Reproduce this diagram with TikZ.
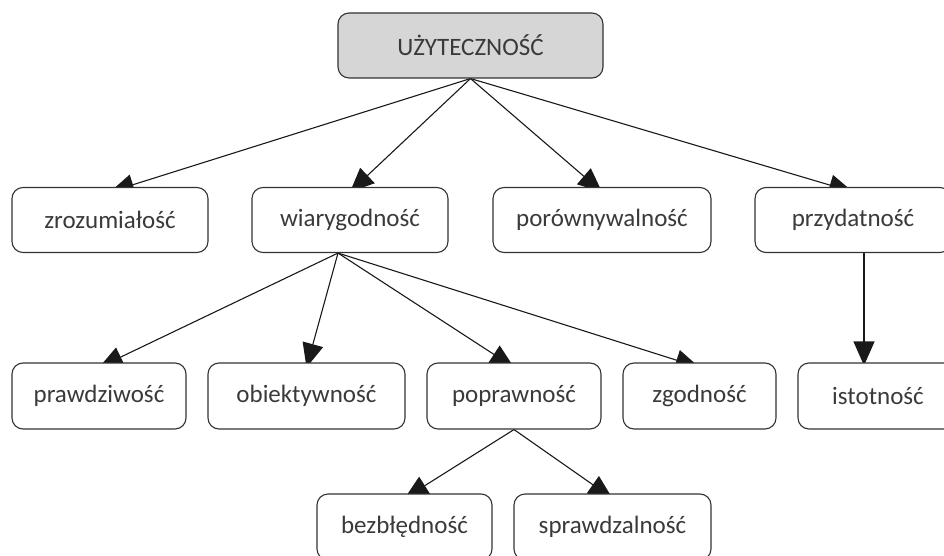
\documentclass[tikz,border=0pt]{standalone}
\usepackage{fontspec}
\setmainfont{Carlito}
\usetikzlibrary{arrows.meta,calc,backgrounds}
\definecolor{txt}{HTML}{3A3A3A}
\definecolor{edge}{HTML}{333333}
\definecolor{topfill}{HTML}{D6D6D6}
\begin{document}
\begin{tikzpicture}[x=1pt,y=-1pt,
  box/.style={draw=edge, line width=1.1pt, rounded corners=11pt, fill=white, text=txt,
    font=\fontsize{25}{30}\selectfont, inner sep=0pt, minimum height=65pt},
  conn/.style={draw=black!90, line width=1.1pt, -{Triangle[length=24pt,width=21pt]}}]
\useasboundingbox (0,0) rectangle (944,556);
\clip (0,0) rectangle (944,556);
% level 0
\node[box, fill=topfill, minimum width=265pt] (top) at (470.5,45.5) {UŻYTECZNOŚĆ};
% level 1
\node[box, minimum width=196pt] (zroz) at (110,220) {zrozumiałość};
\node[box, minimum width=196pt] (wiar) at (350,220) {wiarygodność};
\node[box, minimum width=218pt] (poro) at (602,220) {porównywalność};
\node[box, minimum width=196pt] (przy) at (853,220) {przydatność};
% level 2
\node[box, minimum width=174pt, minimum height=66pt] (praw) at (99,396) {prawdziwość};
\node[box, minimum width=197pt, minimum height=66pt] (obie) at (306.5,396) {obiektywność};
\node[box, minimum width=174pt, minimum height=66pt] (popr) at (514,396) {poprawność};
\node[box, minimum width=153pt, minimum height=66pt] (zgod) at (699.5,396) {zgodność};
\node[box, minimum width=160pt, minimum height=66pt] (isto) at (878,396) {istotność};
% level 3
\node[box, minimum width=175pt, minimum height=66pt] (bezb) at (404.5,527) {bezbłędność};
\node[box, minimum width=197pt, minimum height=66pt] (spra) at (612.5,527) {sprawdzalność};
% connectors
\begin{scope}[on background layer]
\draw[conn] (top.south) -- ($(zroz.north)+(0,5)$);
\draw[conn] (top.south) -- ($(wiar.north)+(0,5)$);
\draw[conn] (top.south) -- ($(poro.north)+(0,5)$);
\draw[conn] (top.south) -- ($(przy.north)+(0,5)$);
\coordinate (ws) at ($(wiar.south)+(-12,0)$);
\draw[conn] (ws) -- ($(praw.north)+(0,5)$);
\draw[conn] (ws) -- ($(obie.north)+(0,5)$);
\draw[conn] (ws) -- ($(popr.north)+(0,5)$);
\draw[conn] (ws) -- ($(zgod.north)+(0,5)$);
\coordinate (ps) at ($(przy.south)+(11,0)$);
\coordinate (pi) at ($(ps |- isto.north)+(0,3)$);
\draw[conn] (ps) -- (pi);
\draw[conn] (popr.south) -- ($(bezb.north)+(0,5)$);
\draw[conn] (popr.south) -- ($(spra.north)+(0,5)$);
\end{scope}
\end{tikzpicture}
\end{document}
